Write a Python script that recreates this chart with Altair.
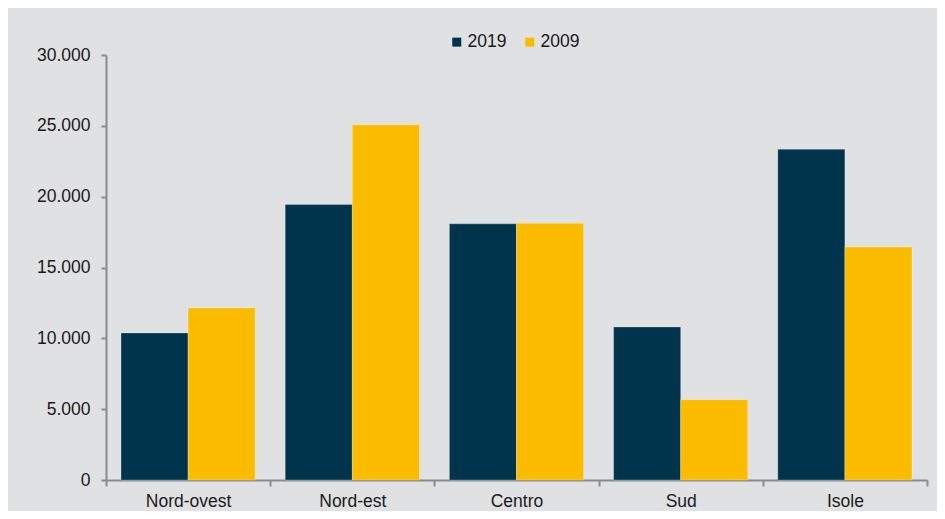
import altair as alt
import pandas as pd

regions = ["Nord-ovest", "Nord-est", "Centro", "Sud", "Isole"]
years = ["2019", "2009"]
values_2019 = [10380, 19440, 18080, 10800, 23350]
values_2009 = [12150, 25070, 18120, 5670, 16450]
y_ticks = [0, 5000, 10000, 15000, 20000, 25000, 30000]
colors = ["#00334C", "#FBBC00"]

rows = []
for i, r in enumerate(regions):
    rows.append({"region": r, "year": "2019", "value": values_2019[i]})
    rows.append({"region": r, "year": "2009", "value": values_2009[i]})
df = pd.DataFrame(rows)

FONT = "Liberation Sans"

chart = alt.Chart(df).mark_bar(stroke="#ffffff", strokeWidth=0.6, strokeOpacity=0.45).encode(
    x=alt.X("region:N", sort=regions, title=None,
            scale=alt.Scale(paddingInner=0, paddingOuter=0),
            axis=alt.Axis(labelAngle=0, tickBand="extent", domainColor="#8a8a8a",
                          tickColor="#8a8a8a", domainWidth=2, tickWidth=2, tickSize=6,
                          labelFontSize=17.5, labelFont=FONT, labelColor="#1a1a1a",
                          labelPadding=6)),
    xOffset=alt.XOffset("year:N", sort=years,
                        scale=alt.Scale(paddingInner=0, paddingOuter=0.2236)),
    y=alt.Y("value:Q", title=None,
            scale=alt.Scale(domain=[0, 30000], nice=False),
            axis=alt.Axis(values=y_ticks, grid=False, domainColor="#8a8a8a",
                          tickColor="#8a8a8a", domainWidth=2, tickWidth=2, tickSize=5,
                          labelFontSize=17.5, labelFont=FONT, labelColor="#1a1a1a",
                          labelPadding=11,
                          labelExpr="replace(format(datum.value, ','), ',', '.')")),
    color=alt.Color("year:N", sort=years,
                    scale=alt.Scale(domain=years, range=colors),
                    legend=alt.Legend(title=None, orient="none", legendX=342, legendY=-22,
                                      direction="horizontal", symbolType="square",
                                      symbolSize=81, symbolStrokeWidth=0,
                                      labelFontSize=17.5, labelFont=FONT,
                                      labelColor="#1a1a1a", labelOffset=2,
                                      columnPadding=14, padding=0)),
).properties(
    width=821,
    height=425,
    autosize=alt.AutoSizeParams(type="none"),
    padding={"left": 98, "top": 47, "right": 10, "bottom": 31},
    background="#E0E1E3",
).configure_view(stroke=None)

chart.save("out.html", embed_options={"renderer": "svg", "actions": False})
